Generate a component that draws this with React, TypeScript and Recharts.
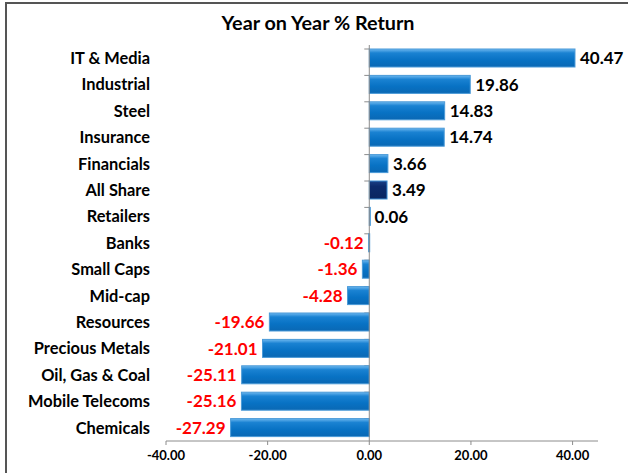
import React from "react";
import {
  BarChart,
  Bar,
  XAxis,
  YAxis,
  ReferenceLine,
  LabelList,
} from "recharts";

const categories = [
  "IT & Media",
  "Industrial",
  "Steel",
  "Insurance",
  "Financials",
  "All Share",
  "Retailers",
  "Banks",
  "Small Caps",
  "Mid-cap",
  "Resources",
  "Precious Metals",
  "Oil, Gas & Coal",
  "Mobile Telecoms",
  "Chemicals",
];
const returns = [
  40.47, 19.86, 14.83, 14.74, 3.66, 3.49, 0.06, -0.12, -1.36, -4.28, -19.66,
  -21.01, -25.11, -25.16, -27.29,
];
const xTicks = [-40, -20, 0, 20, 40];
const highlighted = "All Share";

const data = categories.map((name, i) => ({ name, value: returns[i] }));

const FONT = "Lato, 'DejaVu Sans', sans-serif";

// bar with a glossy top edge, plus the little tick on the zero axis
const BarShape = (props: any) => {
  const { x, y, width, height, payload, background } = props;
  const left = Math.min(x, x + width);
  const w = Math.abs(width);
  const zero = payload.value >= 0 ? left : left + w;
  const bandTop = background ? background.y : y - 4.2;
  const isHi = payload.name === highlighted;
  return (
    <g>
      <line x1={zero - 5} x2={zero} y1={bandTop} y2={bandTop} stroke="#8c8c8c" strokeWidth={1} />
      {w > 0 && (
        <rect
          x={left}
          y={y}
          width={Math.max(w, 1)}
          height={height}
          fill={isHi ? "url(#gradHi)" : "url(#gradBlue)"}
          stroke={isHi ? "#3d8fd6" : "#4a9ad8"}
          strokeWidth={1}
        />
      )}
    </g>
  );
};

const ValueLabel = (props: any) => {
  const vb = props.viewBox ?? props;
  const { x, y, width, height } = vb;
  const value = props.value as number;
  const tip = value >= 0 ? Math.max(x, x + width) : Math.min(x, x + width);
  const neg = value < 0;
  return (
    <text
      x={neg ? tip - 5 : tip + 5}
      y={y + height / 2}
      dy="0.37em"
      textAnchor={neg ? "end" : "start"}
      fill={neg ? "#ff0000" : "#000"}
      fontFamily={FONT}
      fontWeight={700}
      fontSize={17}
    >
      {value.toFixed(2)}
    </text>
  );
};

export default function App() {
  return (
    <div
      style={{
        position: "fixed",
        left: 0,
        top: 0,
        width: 628,
        height: 473,
        background: "#fff",
        overflow: "hidden",
      }}
    >
      <div
        style={{
          position: "absolute",
          left: 5,
          top: 2,
          width: 630,
          height: 490,
          border: "2px solid #555",
          boxSizing: "border-box",
        }}
      />
      <div
        style={{
          position: "absolute",
          left: 0,
          top: 10,
          width: 636,
          textAlign: "center",
          fontFamily: FONT,
          fontWeight: 700,
          fontSize: 19.8,
          color: "#000",
        }}
      >
        Year on Year % Return
      </div>
      <div style={{ position: "absolute", left: 0, top: 0 }}>
        <BarChart
          width={628}
          height={473}
          data={data}
          layout="vertical"
          margin={{ top: 45, right: 30, bottom: 0, left: 0 }}
          barCategoryGap={8}
        >
          <defs>
            <linearGradient id="gradBlue" x1="0" y1="0" x2="0" y2="1">
              <stop offset="0%" stopColor="#6db8f0" />
              <stop offset="22%" stopColor="#1a82d2" />
              <stop offset="60%" stopColor="#0872c4" />
              <stop offset="100%" stopColor="#0a68b4" />
            </linearGradient>
            <linearGradient id="gradHi" x1="0" y1="0" x2="0" y2="1">
              <stop offset="0%" stopColor="#1b3f86" />
              <stop offset="30%" stopColor="#0c2a6c" />
              <stop offset="100%" stopColor="#0a2560" />
            </linearGradient>
          </defs>
          <XAxis
            type="number"
            domain={[-40, 45]}
            ticks={xTicks}
            allowDataOverflow
            height={32}
            tickFormatter={(v: number) => v.toFixed(2)}
            tick={{ fill: "#000", fontFamily: FONT, fontWeight: 700, fontSize: 13 }}
            axisLine={{ stroke: "#8c8c8c" }}
            tickLine={{ stroke: "#8c8c8c" }}
            tickSize={4}
            tickMargin={6}
          />
          <YAxis
            type="category"
            dataKey="name"
            width={166}
            axisLine={false}
            tickLine={false}
            tickMargin={10}
            interval={0}
            tick={{ fill: "#000", fontFamily: FONT, fontWeight: 700, fontSize: 16.4 }}
          />
          <ReferenceLine x={0} stroke="#8c8c8c" strokeWidth={1} />
          <Bar
            dataKey="value"
            barSize={18}
            shape={BarShape}
            isAnimationActive={false}
          >
            <LabelList dataKey="value" content={ValueLabel} />
          </Bar>
        </BarChart>
      </div>
    </div>
  );
}
